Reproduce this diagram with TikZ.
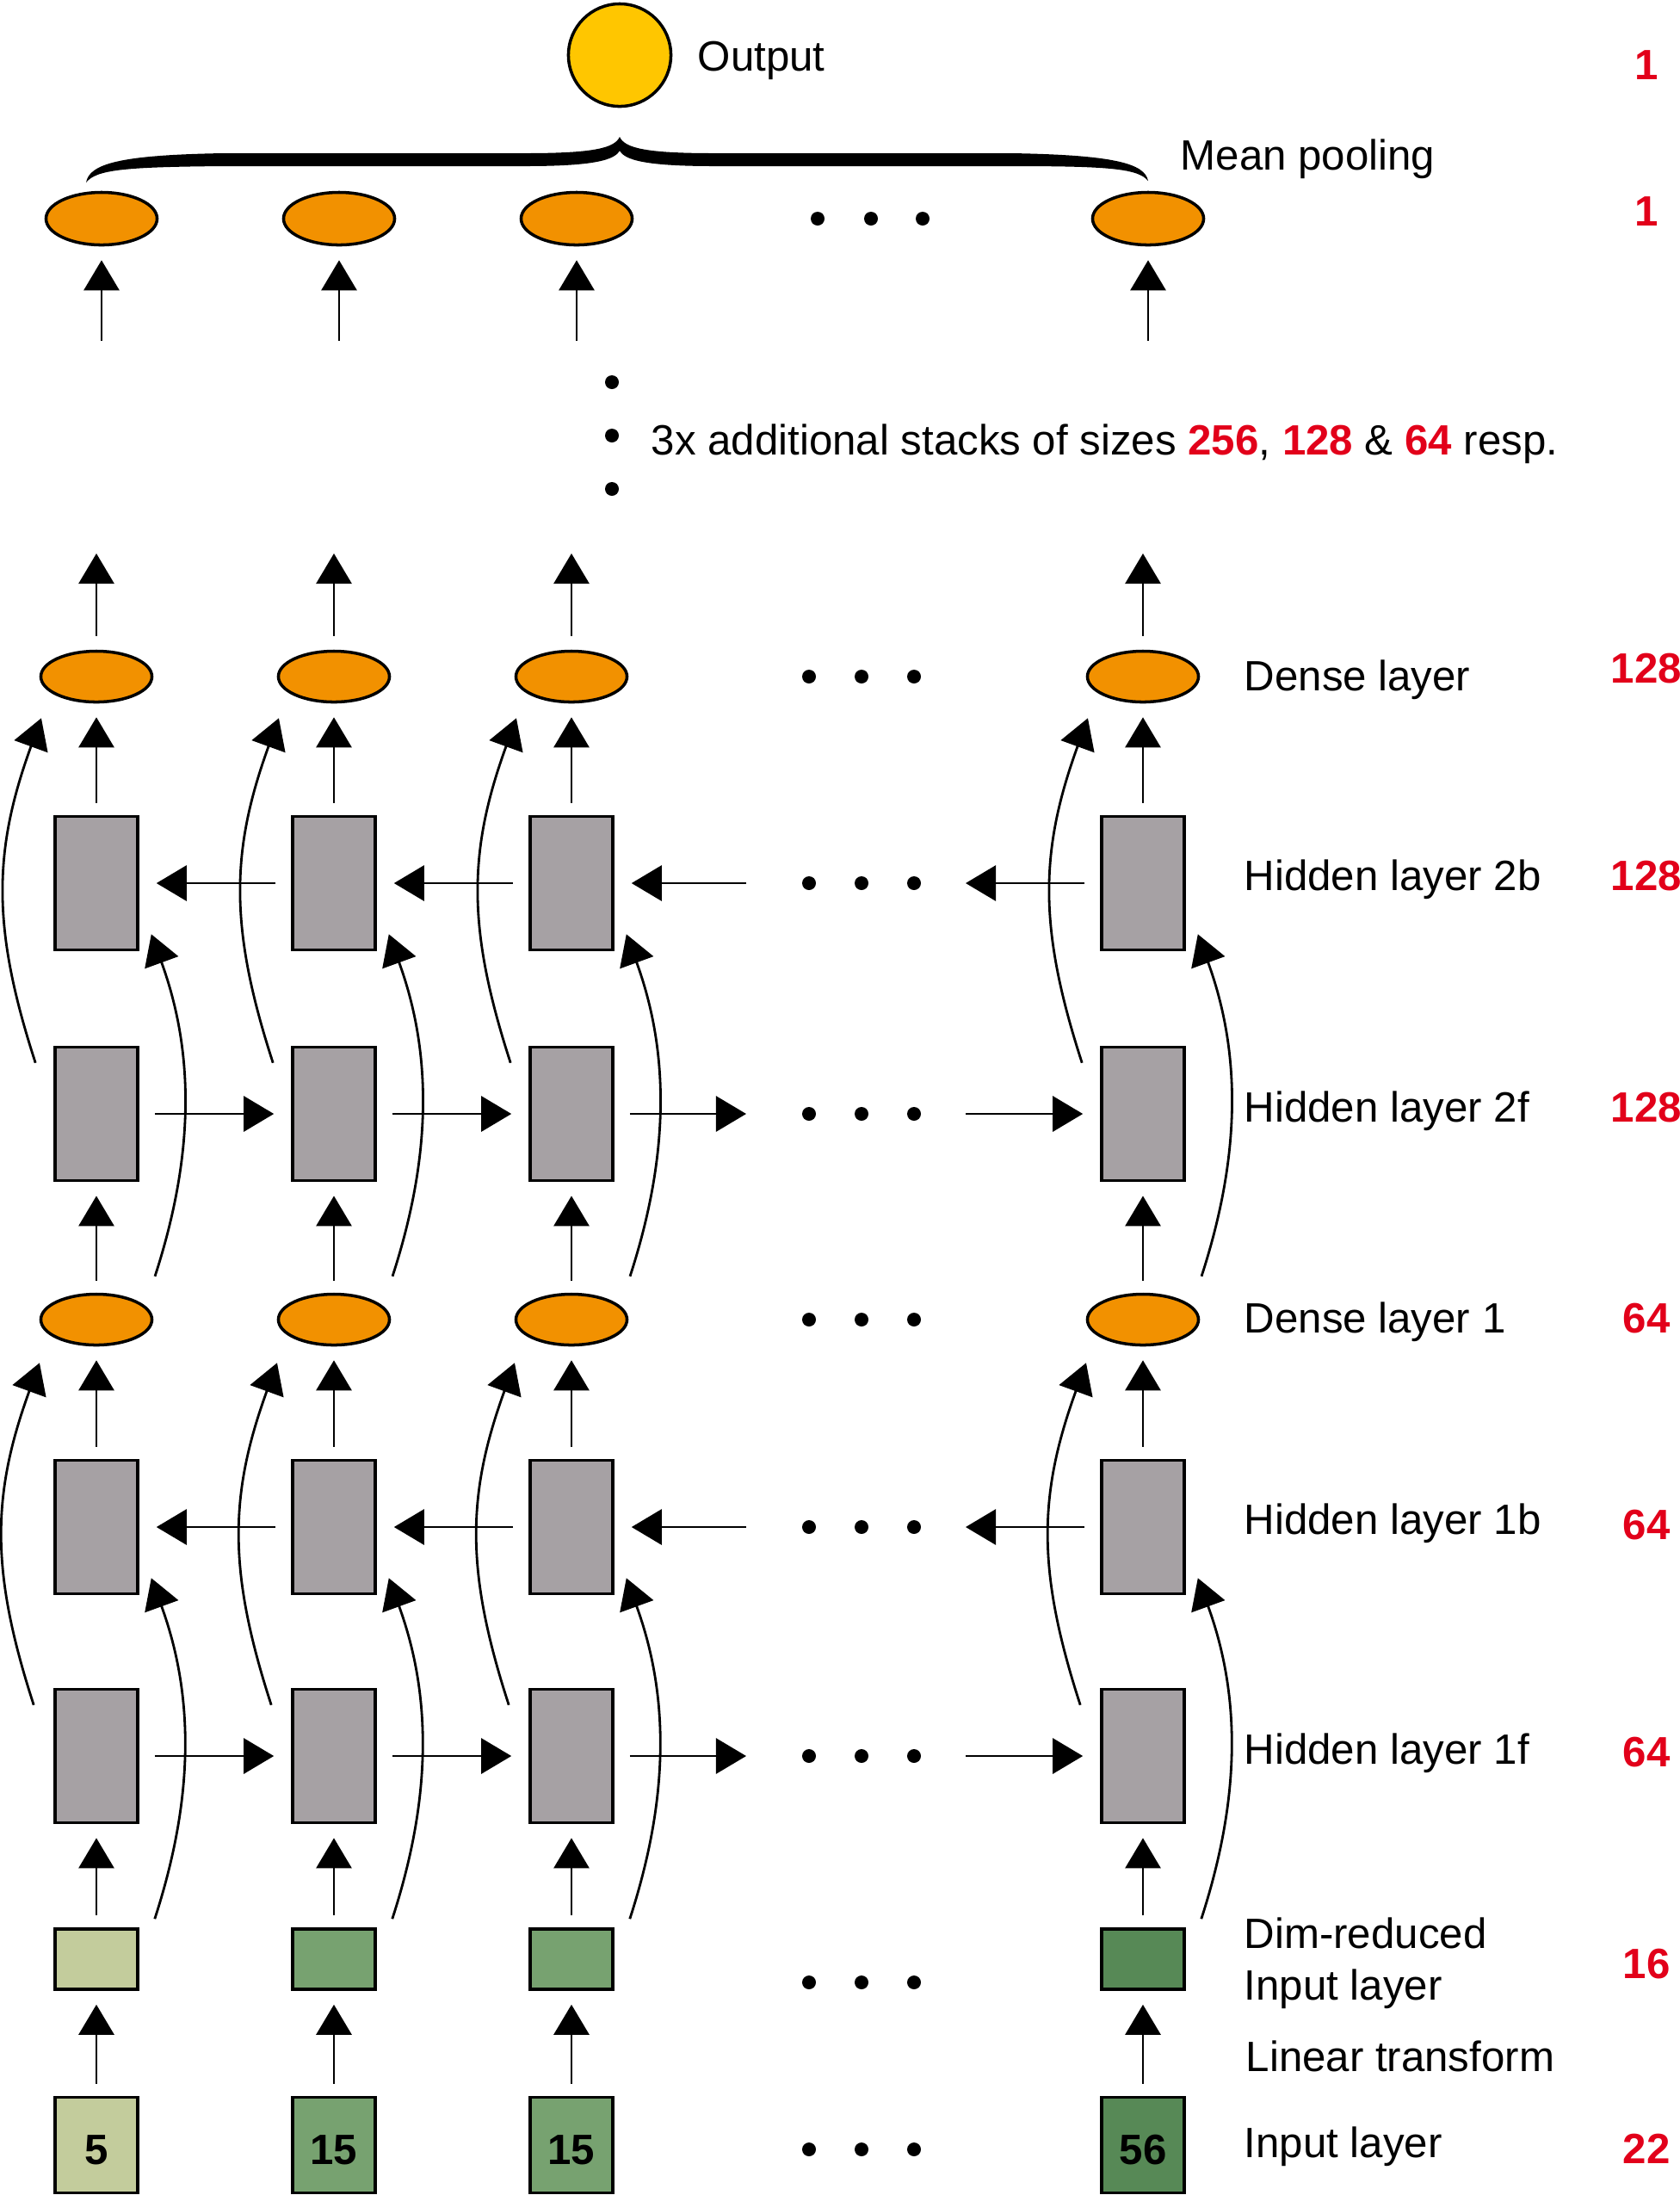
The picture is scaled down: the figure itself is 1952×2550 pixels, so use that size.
\documentclass[tikz,border=0pt]{standalone}
\usepackage{fontspec}
\setmainfont{Liberation Sans}
\usetikzlibrary{arrows.meta,shapes.geometric}

\definecolor{hidgray}{RGB}{166,161,164}
\definecolor{dnsorange}{RGB}{242,145,0}
\definecolor{outyellow}{RGB}{255,198,0}
\definecolor{inA}{RGB}{195,204,156}
\definecolor{inB}{RGB}{119,162,112}
\definecolor{inC}{RGB}{87,137,86}
\definecolor{numred}{RGB}{226,0,26}

\tikzset{
  hid/.style={draw,line width=1pt,fill=hidgray,minimum width=0.96cm,minimum height=1.55cm,inner sep=0},
  dimbox/.style={draw,line width=1pt,minimum width=0.96cm,minimum height=0.70cm,inner sep=0},
  inbox/.style={draw,line width=1pt,minimum width=0.96cm,minimum height=1.11cm,inner sep=0,
    text height=0.45cm,font=\fontsize{14pt}{17pt}\selectfont\bfseries},
  dns/.style={ellipse,draw,line width=1pt,fill=dnsorange,minimum width=1.29cm,minimum height=0.59cm,inner sep=0},
  pl/.style={dns,minimum height=0.61cm},
  outc/.style={circle,draw,line width=1pt,fill=outyellow,minimum size=1.19cm,inner sep=0},
  ddot/.style={circle,fill,inner sep=0,minimum size=0.16cm},
  lbl/.style={anchor=base west,inner sep=0},
  sz/.style={anchor=base,inner sep=0,text=numred,font=\fontsize{14pt}{17pt}\selectfont\bfseries},
  arr/.style={line width=0.8pt,-{Triangle[length=0.35cm,width=0.41cm]}},
  vup/.style={arr,shorten >=0.16cm,shorten <=0.14cm},
  harr/.style={arr,shorten >=0.2cm,shorten <=0.18cm}
}

\begin{document}
\begin{tikzpicture}[x=0.01cm,y=-0.01cm,every node/.style={font=\fontsize{14pt}{17pt}\selectfont}]
  \useasboundingbox (0,0) rectangle (1952,2550);

  % output and pooling
  \node[outc] (outp) at (720,64) {};
  \node[lbl] (outlbl) at (810,82) {Output};
  \fill (100,212) .. controls (104,190) and (140,180) .. (260,178)
    -- (610,178) .. controls (690,178) and (714,172) .. (720,159)
    .. controls (726,172) and (750,178) .. (830,178)
    -- (1175,178) .. controls (1295,180) and (1330,190) .. (1334,210)
    .. controls (1322,196) and (1290,193) .. (1175,193)
    -- (830,193) .. controls (750,193) and (726,186) .. (720,175)
    .. controls (714,186) and (690,193) .. (610,193)
    -- (260,193) .. controls (145,194) and (112,197) .. (100,212) -- cycle;
  \node[lbl] (poollbl) at (1371,197) {Mean pooling};

  % columns
  \foreach \i/\x/\c/\n in {1/112/inA/5,2/388/inB/15,3/664/inB/15,4/1328/inC/56} {
    \node[pl] (pool-\i) at (\x+6,254) {};
    \coordinate (up-\i) at (\x+6,396);
    \coordinate (cont-\i) at (\x,643);
    \node[dns] (dtop-\i) at (\x,786) {};
    \node[hid] (hb2-\i) at (\x,1026) {};
    \node[hid] (hf2-\i) at (\x,1294) {};
    \node[dns] (dbot-\i) at (\x,1533) {};
    \node[hid] (hb1-\i) at (\x,1774) {};
    \node[hid] (hf1-\i) at (\x,2040) {};
    \node[dimbox,fill=\c] (dim-\i) at (\x,2276) {};
    \node[inbox,fill=\c] (in-\i) at (\x,2492) {\n};

    \draw[vup] (in-\i) -- (dim-\i);
    \draw[vup] (dim-\i) -- (hf1-\i);
    \draw[vup] (hb1-\i) -- (dbot-\i);
    \draw[vup] (dbot-\i) -- (hf2-\i);
    \draw[vup] (hb2-\i) -- (dtop-\i);
    \draw[arr,shorten <=0.16cm] (dtop-\i) -- (cont-\i);
    \draw[arr,shorten >=0.16cm] (up-\i) -- (pool-\i);

    % skip connections
    \draw[arr] ([xshift=0.18cm,yshift=0.1cm]dim-\i.north east) to[out=72,in=-70,looseness=0.95]
      ([xshift=0.14cm,yshift=0.2cm]hb1-\i.south east);
    \draw[arr] ([xshift=0.68cm,yshift=0.19cm]dbot-\i.north) to[out=72,in=-70,looseness=0.95]
      ([xshift=0.14cm,yshift=0.2cm]hb2-\i.south east);
    \draw[arr] ([xshift=-0.23cm,yshift=-0.2cm]hf1-\i.north west) to[out=108,in=-110,looseness=1.05]
      ([xshift=-0.66cm,yshift=-0.19cm]dbot-\i.south);
    \draw[arr] ([xshift=-0.21cm,yshift=-0.2cm]hf2-\i.north west) to[out=108,in=-110,looseness=1.05]
      ([xshift=-0.64cm,yshift=-0.17cm]dtop-\i.south);
  }

  % recurrent arrows
  \foreach \a/\b in {1/2,2/3} {
    \draw[harr] (hf2-\a) -- (hf2-\b);
    \draw[harr] (hb2-\b) -- (hb2-\a);
    \draw[harr] (hf1-\a) -- (hf1-\b);
    \draw[harr] (hb1-\b) -- (hb1-\a);
  }
  \coordinate (fr2f) at (867,1294);
  \coordinate (fl2f) at (1122,1294);
  \coordinate (fr2b) at (867,1026);
  \coordinate (fl2b) at (1122,1026);
  \coordinate (fr1f) at (867,2040);
  \coordinate (fl1f) at (1122,2040);
  \coordinate (fr1b) at (867,1774);
  \coordinate (fl1b) at (1122,1774);
  \draw[arr,shorten <=0.18cm] (hf2-3) -- (fr2f);
  \draw[arr,shorten >=0.2cm] (fl2f) -- (hf2-4);
  \draw[arr,shorten >=0.2cm] (fr2b) -- (hb2-3);
  \draw[arr,shorten <=0.18cm] (hb2-4) -- (fl2b);
  \draw[arr,shorten <=0.18cm] (hf1-3) -- (fr1f);
  \draw[arr,shorten >=0.2cm] (fl1f) -- (hf1-4);
  \draw[arr,shorten >=0.2cm] (fr1b) -- (hb1-3);
  \draw[arr,shorten <=0.18cm] (hb1-4) -- (fl1b);

  % dots
  \foreach \y in {786,1026,1294,1533,1774,2040,2303,2497}
    \foreach \x in {940,1001,1062}
      \node[ddot] (dot-\x-\y) at (\x,\y) {};
  \foreach \x in {950,1012,1072} \node[ddot] (pdot-\x) at (\x,254) {};
  \foreach \y in {444,506,568} \node[ddot] (vdot-\y) at (711,\y) {};
  \node[lbl] (stacks) at (756,528) {3x additional stacks of sizes \textcolor{numred}{\textbf{256}},
    \textcolor{numred}{\textbf{128}} \& \textcolor{numred}{\textbf{64}} resp.};

  % layer labels
  \node[lbl] (l-dtop) at (1445,802) {Dense layer};
  \node[lbl] (l-hb2) at (1445,1034) {Hidden layer 2b};
  \node[lbl] (l-hf2) at (1445,1303) {Hidden layer 2f};
  \node[lbl] (l-dbot) at (1445,1548) {Dense layer 1};
  \node[lbl] (l-hb1) at (1445,1782) {Hidden layer 1b};
  \node[lbl] (l-hf1) at (1445,2049) {Hidden layer 1f};
  \node[lbl] (l-dim) at (1445,2263) {Dim-reduced};
  \node[lbl] (l-dim2) at (1445,2323) {Input layer};
  \node[lbl] (l-lin) at (1447,2406) {Linear transform};
  \node[lbl] (l-in) at (1445,2506) {Input layer};

  % sizes
  \node[sz] (s-out) at (1913,92) {1};
  \node[sz] (s-pool) at (1913,262) {1};
  \node[sz] (s-dtop) at (1913,793) {128};
  \node[sz] (s-hb2) at (1913,1034) {128};
  \node[sz] (s-hf2) at (1913,1303) {128};
  \node[sz] (s-dbot) at (1913,1548) {64};
  \node[sz] (s-hb1) at (1913,1788) {64};
  \node[sz] (s-hf1) at (1913,2052) {64};
  \node[sz] (s-dim) at (1913,2298) {16};
  \node[sz] (s-in) at (1913,2513) {22};
\end{tikzpicture}
\end{document}
